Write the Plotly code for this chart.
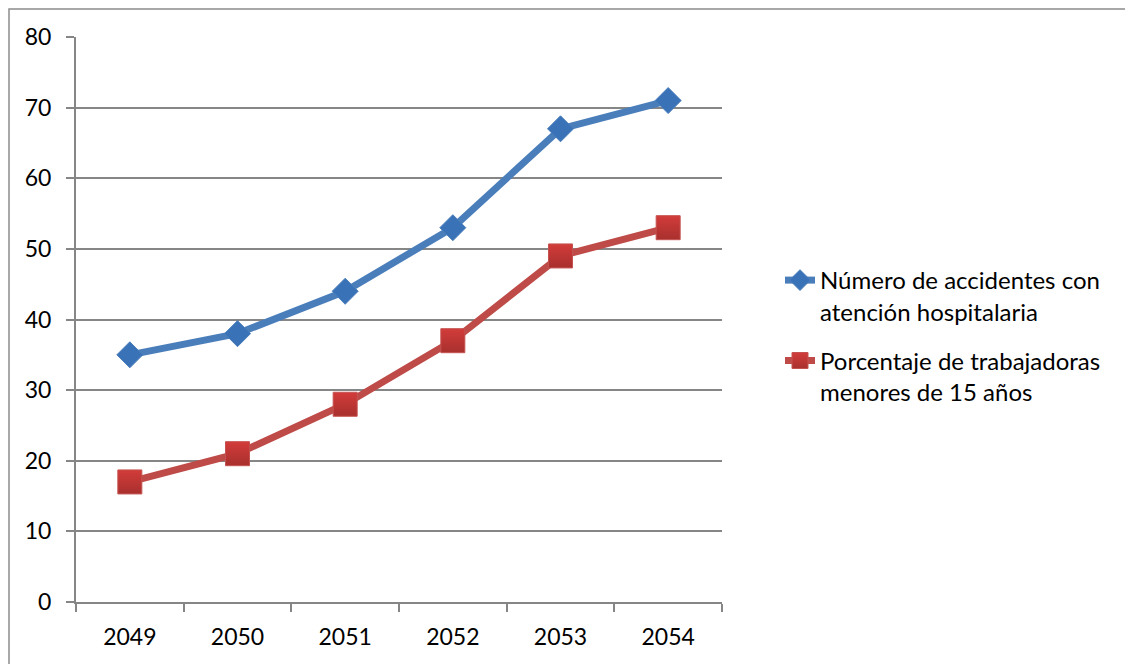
import plotly.graph_objects as go

years = ["2049", "2050", "2051", "2052", "2053", "2054"]
accidentes = [35, 38, 44, 53, 67, 71]
trabajadoras = [17, 21, 28, 37, 49, 53]
name_a = "Número de accidentes con<br>atención hospitalaria"
name_b = "Porcentaje de trabajadoras<br>menores de 15 años"

W, H = 1133, 664
OFF = 8  # page offset of the figure
L, R, T, B = 76 - OFF, 722 - OFF, 37 - OFF, 602 - OFF

fig = go.Figure()
fig.add_trace(go.Scatter(
    x=years, y=accidentes, name=name_a, mode="lines+markers", legendgroup="a",
    line=dict(color="#4A7EBB", width=7),
    marker=dict(symbol="diamond", size=20, color="#3A72B8",
                line=dict(color="#4A7EBB", width=1)),
))
fig.add_trace(go.Scatter(
    x=years, y=trabajadoras, name=name_b, mode="lines+markers", legendgroup="b",
    line=dict(color="#BE4B48", width=7),
    marker=dict(symbol="square", size=24, color="#D23C3A",
                gradient=dict(type="vertical", color="#A8302E"),
                line=dict(color="#C45250", width=1)),
))

grid = "#868686"
fig.update_layout(
    width=W, height=H,
    margin=dict(l=L, r=W - R, t=T, b=H - B),
    paper_bgcolor="white", plot_bgcolor="white",
    font=dict(family="Lato", size=23, color="#000000"),
    showlegend=True,
    legend=dict(x=(780 - OFF - L) / (R - L), xanchor="left",
                y=(B - (258 - OFF)) / (B - T), yanchor="top",
                valign="top", font=dict(size=24, family="Lato"),
                tracegroupgap=15, bgcolor="rgba(0,0,0,0)"),
    xaxis=dict(
        type="category", showgrid=False, showline=True, linecolor=grid,
        linewidth=2, ticks="outside", tickson="boundaries", ticklen=8,
        tickcolor=grid, tickwidth=2, ticklabelstandoff=13,
        range=[-0.5, 5.5], zeroline=False,
    ),
    yaxis=dict(
        range=[0, 80], dtick=10, showgrid=True, gridcolor=grid, gridwidth=1.5,
        showline=True, linecolor=grid, linewidth=2, ticks="outside",
        ticklen=8, tickcolor=grid, tickwidth=1.5, zeroline=False,
        ticklabelstandoff=10,
    ),
    shapes=[dict(type="rect", xref="paper", yref="paper",
                 x0=(1 - L) / (R - L), x1=(1145 - L) / (R - L),
                 y0=(B - 680) / (B - T), y1=(B - 1) / (B - T),
                 line=dict(color="#8C8C8C", width=1.5), layer="below")],
)

fig.write_html("out.html")
